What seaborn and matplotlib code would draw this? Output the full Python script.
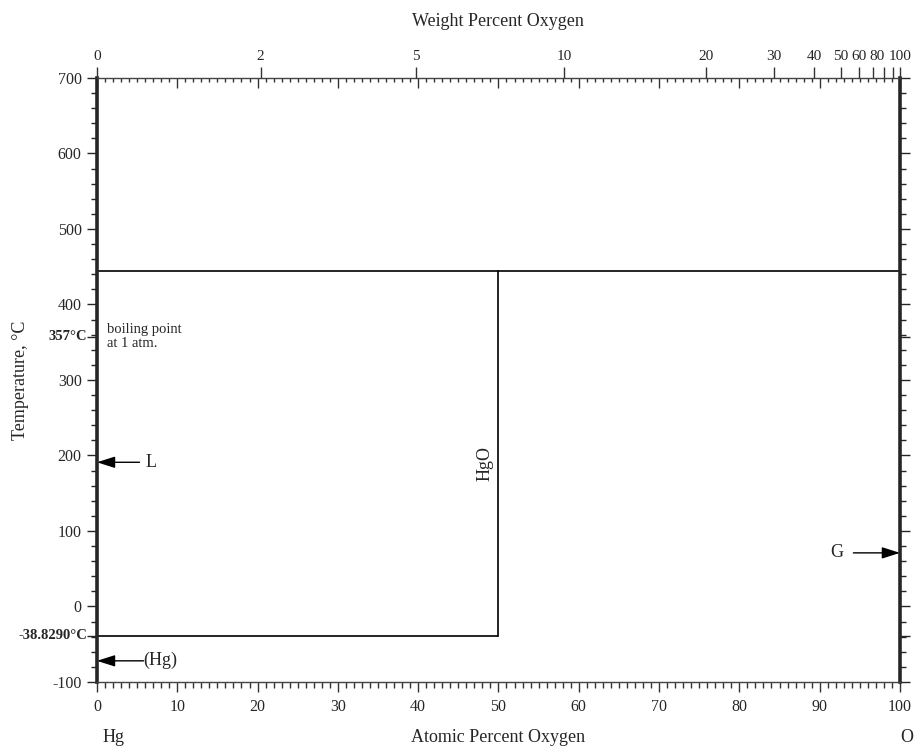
import numpy as np
import pandas as pd
import matplotlib
matplotlib.use("Agg")
import matplotlib.pyplot as plt
from matplotlib.ticker import MultipleLocator
import seaborn as sns

# phase boundaries (atomic % O, temperature in C)
seg_id = ["top", "top", "hgo", "hgo", "eut", "eut"]
seg_x = [0, 100, 50, 50, 0, 50]
seg_t = [445, 445, -38.829, 445, -38.829, -38.829]

# weight percent ticks on the top axis
wt_ticks = [0, 2, 5, 10, 20, 30, 40, 50, 60, 70, 80, 90, 100]
wt_labels = ["0", "2", "5", "10", "20", "30", "40", "50", "60", "", "80", "", "100"]

y_ticks = [-100, 0, 100, 200, 300, 400, 500, 600, 700]
special_t = [357, -38.829]
special_lab = ["357°C", "-38.8290°C"]

M_HG, M_O = 200.59, 15.999


def wt_to_at(w):
    w = np.asarray(w, dtype=float)
    with np.errstate(divide="ignore", invalid="ignore"):
        a = (w / M_O) / (w / M_O + (100 - w) / M_HG) * 100
    return np.where(w >= 100, 100.0, a)


df = pd.DataFrame({"seg": seg_id, "x": seg_x, "t": seg_t})

sns.set_style("ticks")
plt.rcParams["font.family"] = ["Liberation Serif", "DejaVu Serif"]

fig = plt.figure(figsize=(9.19, 7.5), dpi=100)
ax = fig.add_axes([0.1055, 0.0907, 0.8738, 0.8053])

sns.lineplot(data=df, x="x", y="t", units="seg", estimator=None, sort=False,
             color="black", lw=1.2, ax=ax)

ax.set_xlim(0, 100)
ax.set_ylim(-100, 700)

for s in ["left", "right"]:
    ax.spines[s].set_linewidth(2.6)
for s in ["top", "bottom"]:
    ax.spines[s].set_linewidth(1.0)
    ax.spines[s].set_color("#444444")

# bottom axis: atomic percent
ax.xaxis.set_major_locator(MultipleLocator(10))
ax.xaxis.set_minor_locator(MultipleLocator(1))
ax.tick_params(axis="x", which="major", direction="out", length=7, width=1,
               labelsize=11.5, pad=5, color="#333333")
ax.tick_params(axis="x", which="minor", direction="out", length=4, width=1,
               color="#333333")

# left / right temperature ticks
ax.set_yticks(y_ticks + special_t)
ax.set_yticklabels([str(v) for v in y_ticks] + ["", ""])
ax.yaxis.set_minor_locator(MultipleLocator(20))
ax.tick_params(axis="y", which="major", direction="out", length=7, width=1,
               labelsize=11.5, right=True, pad=4)
ax.tick_params(axis="y", which="minor", direction="out", length=4, width=1,
               right=True)
for t, lab in zip(special_t, special_lab):
    ax.text(-0.012, t, lab, transform=ax.get_yaxis_transform(), ha="right",
            va="center", fontsize=10.5, fontweight="bold")

# inward atomic percent ticks along the top
sec = ax.secondary_xaxis("top")
sec.xaxis.set_major_locator(MultipleLocator(10))
sec.xaxis.set_minor_locator(MultipleLocator(1))
sec.tick_params(which="major", direction="in", length=7, width=1,
                labeltop=False, color="#333333")
sec.tick_params(which="minor", direction="in", length=3, width=1,
                color="#333333")
sec.spines["top"].set_visible(False)

# weight percent scale
ax2 = ax.twiny()
ax2.set_xlim(0, 100)
ax2.set_xticks(wt_to_at(wt_ticks))
ax2.set_xticklabels(wt_labels)
ax2.xaxis.set_minor_locator(plt.NullLocator())
ax2.tick_params(axis="x", direction="out", length=8, width=1, labelsize=11,
                pad=3, color="#333333")
for s in ["left", "right", "bottom", "top"]:
    ax2.spines[s].set_visible(False)
labs = ax2.get_xticklabels()
labs[-3].set_ha("right")

ax.set_xlabel("")
ax.set_ylabel("")
fig.text(0.542, 0.972, "Weight Percent Oxygen", ha="center", va="center",
         fontsize=13)
fig.text(0.542, 0.017, "Atomic Percent Oxygen", ha="center", va="center",
         fontsize=13)
fig.text(0.123, 0.017, "Hg", ha="center", va="center", fontsize=13)
fig.text(0.987, 0.017, "O", ha="center", va="center", fontsize=13)
fig.text(0.022, 0.493, "Temperature, °C", ha="center", va="center",
         rotation=90, fontsize=13)

ax.text(1.2, 376, "boiling point\nat 1 atm.", fontsize=10.5, va="top",
        ha="left", linespacing=1.1)
ax.text(48.3, 190, "HgO", rotation=90, fontsize=13, ha="center", va="center")

arrow = dict(arrowstyle="-|>,head_length=1.1,head_width=0.35", color="black",
             lw=1.0, shrinkA=0, shrinkB=0)
ax.annotate("", xy=(0, 191), xytext=(5.3, 191), arrowprops=arrow)
ax.text(6.1, 191, "L", fontsize=13, va="center", ha="left")
ax.annotate("", xy=(0, -72), xytext=(5.8, -72), arrowprops=arrow)
ax.text(5.8, -72, "(Hg)", fontsize=13, va="center", ha="left")
ax.annotate("", xy=(100, 71), xytext=(94.2, 71), arrowprops=arrow)
ax.text(93.0, 71, "G", fontsize=13, va="center", ha="right")

fig.savefig("out.png", dpi=100)
